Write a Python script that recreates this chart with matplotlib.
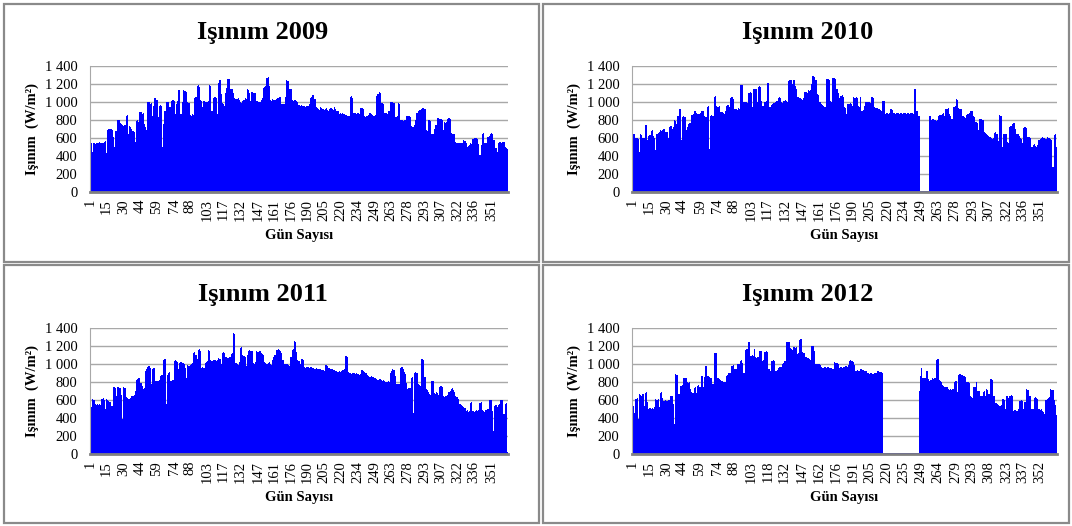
import matplotlib
matplotlib.use("Agg")
import matplotlib.pyplot as plt
import numpy as np
from matplotlib.patches import Rectangle

# ---------------- data (daily radiation, W/m2) ----------------
rad_2009 = [
    545, 550, 445, 540, 535, 540, 545, 550, 555, 550,
    545, 550, 560, 570, 435, 690, 695, 700, 705, 690,
    610, 500, 675, 680, 800, 805, 770, 760, 745, 730,
    740, 850, 855, 650, 730, 720, 700, 680, 665, 555,
    790, 795, 780, 890, 885, 870, 880, 760, 720, 685,
    1000, 995, 980, 990, 850, 960, 1045, 1050, 1020, 835,
    960, 965, 955, 500, 760, 900, 1000, 995, 1005, 950,
    940, 1010, 1020, 1015, 870, 980, 1010, 1135, 1130, 870,
    1000, 1130, 1125, 1120, 1110, 1000, 990, 855, 850, 870,
    860, 1050, 1060, 1180, 1190, 1170, 1020, 1015, 940, 1010,
    1000, 1005, 1000, 1010, 1185, 1180, 905, 1050, 1060, 1055,
    1040, 870, 1210, 1240, 1090, 985, 975, 960, 1100, 1160,
    1260, 1255, 1150, 1145, 1150, 1100, 1040, 1035, 1030, 1040,
    1020, 1000, 990, 1010, 1020, 1040, 1030, 1140, 1135, 1100,
    1010, 1110, 1100, 1095, 1100, 1010, 1015, 1005, 1000, 1020,
    1050, 1160, 1170, 1180, 1270, 1275, 1180, 1020, 1015, 1030,
    1020, 1020, 1030, 1040, 1050, 1055, 1060, 980, 975, 980,
    1060, 1240, 1235, 1230, 1150, 1145, 1020, 1015, 1020, 1020,
    1010, 1000, 970, 960, 965, 960, 955, 960, 950, 955,
    960, 980, 1040, 1060, 1080, 1075, 1030, 940, 930, 920,
    910, 940, 935, 920, 915, 925, 930, 910, 905, 920,
    935, 920, 910, 940, 925, 905, 900, 870, 875, 870,
    880, 865, 870, 860, 850, 845, 850, 1060, 1065, 1050,
    880, 875, 870, 880, 875, 870, 935, 930, 925, 840,
    835, 845, 850, 860, 875, 870, 860, 850, 845, 860,
    1070, 1090, 1110, 1100, 990, 985, 980, 880, 875, 870,
    900, 905, 1000, 1005, 995, 990, 835, 830, 840, 985,
    980, 795, 800, 790, 800, 805, 840, 850, 845, 830,
    730, 725, 720, 740, 800, 880, 905, 910, 915, 925,
    930, 935, 925, 690, 680, 800, 795, 790, 650, 640,
    700, 740, 745, 820, 825, 815, 810, 800, 690, 780,
    770, 780, 815, 820, 810, 655, 650, 645, 640, 560,
    540, 545, 540, 550, 545, 540, 575, 570, 545, 500,
    510, 520, 545, 530, 590, 600, 595, 600, 590, 530,
    410, 520, 650, 660, 545, 540, 550, 610, 620, 650,
    655, 640, 580, 575, 490, 445, 545, 555, 560, 550,
    560, 555, 500, 485, 480,
]

rad_2010 = [
    610, 640, 645, 600, 595, 590, 445, 640, 635, 600,
    595, 740, 745, 575, 620, 630, 680, 690, 620, 600,
    465, 650, 660, 670, 690, 680, 690, 695, 670, 665,
    665, 595, 720, 730, 700, 720, 795, 790, 760, 840,
    920, 925, 580, 835, 840, 830, 690, 720, 760, 770,
    770, 860, 870, 905, 895, 880, 870, 865, 875, 905,
    905, 900, 840, 830, 945, 955, 480, 850, 855, 845,
    1060, 1065, 960, 950, 940, 960, 890, 885, 880, 870,
    895, 960, 965, 950, 1040, 1060, 1055, 1030, 920, 925,
    915, 930, 920, 1185, 1190, 1000, 995, 1005, 1000, 990,
    1100, 1110, 1095, 950, 1150, 1145, 1140, 1000, 1170, 1175,
    1165, 1010, 960, 1000, 1005, 1010, 1210, 1215, 945, 970,
    975, 990, 985, 1000, 1010, 1050, 1055, 1045, 1000, 990,
    1010, 1020, 1015, 1000, 1230, 1245, 1250, 1200, 1240, 1250,
    1180, 1150, 1055, 1050, 1040, 1030, 1020, 1040, 1110, 1115,
    1100, 1130, 1125, 1130, 1200, 1285, 1280, 1245, 1240, 1090,
    1080, 1000, 980, 970, 960, 945, 950, 1255, 1260, 1250,
    1015, 1000, 1265, 1270, 1260, 1150, 1145, 1100, 1040, 1070,
    1075, 1060, 945, 930, 870, 975, 980, 985, 980, 960,
    1055, 1050, 1060, 1040, 960, 945, 1055, 905, 910, 960,
    1000, 995, 1005, 1000, 990, 1055, 1060, 1050, 940, 935,
    930, 925, 920, 910, 905, 1015, 1010, 870, 880, 875,
    870, 875, 925, 915, 875, 880, 870, 875, 880, 870,
    875, 880, 870, 875, 880, 870, 875, 880, 870, 875,
    880, 870, 1150, 1145, 900, 900, 850, 12, 12, 12,
    12, 12, 12, 12, 12, 850, 845, 805, 815, 800,
    795, 790, 800, 850, 860, 855, 870, 880, 850, 920,
    925, 930, 870, 850, 810, 815, 940, 960, 1035, 1020,
    930, 925, 920, 850, 840, 830, 820, 860, 870, 880,
    895, 900, 905, 840, 830, 780, 770, 685, 810, 815,
    810, 800, 670, 660, 640, 630, 620, 610, 600, 590,
    600, 660, 665, 650, 570, 855, 850, 845, 500, 650,
    645, 640, 555, 550, 720, 730, 760, 770, 765, 700,
    650, 640, 620, 600, 590, 540, 715, 720, 710, 610,
    610, 615, 600, 500, 520, 530, 515, 500, 520, 575,
    590, 600, 610, 605, 600, 590, 610, 600, 595, 590,
    575, 280, 630, 640, 495,
]

rad_2011 = [
    515, 520, 610, 605, 555, 550, 560, 545, 555, 550,
    610, 620, 605, 495, 610, 600, 590, 580, 535, 530,
    740, 745, 735, 640, 740, 735, 730, 660, 390, 740,
    735, 630, 620, 610, 615, 625, 640, 650, 660, 700,
    825, 835, 850, 840, 790, 760, 720, 730, 925, 940,
    970, 975, 960, 780, 950, 960, 955, 815, 810, 815,
    820, 870, 875, 880, 1050, 1055, 555, 880, 905, 910,
    815, 810, 820, 1030, 1040, 1035, 1020, 950, 1015, 1020,
    1010, 1015, 1000, 960, 850, 985, 980, 990, 1000, 1010,
    1120, 1130, 1100, 1060, 1160, 1165, 1150, 960, 965, 960,
    1010, 1020, 1030, 1160, 1150, 1040, 1035, 1045, 1040, 1050,
    1030, 1040, 1070, 1060, 1000, 1120, 1130, 1125, 1080, 1075,
    1070, 1075, 1080, 1110, 1120, 1340, 1330, 1010, 1000, 990,
    1020, 1180, 1185, 1100, 1090, 1080, 980, 1100, 1150, 1155,
    1145, 1150, 1010, 1000, 1020, 1140, 1135, 1130, 1140, 1120,
    1110, 1100, 1020, 1010, 1000, 1015, 1020, 1005, 990, 1050,
    1080, 1100, 1160, 1155, 1165, 1160, 1150, 1120, 1040, 1005,
    1000, 995, 1005, 990, 980, 1080, 1160, 1165, 1260, 1250,
    1130, 1040, 1035, 1000, 1055, 1060, 1050, 970, 960, 965,
    970, 960, 965, 970, 960, 955, 950, 960, 945, 940,
    945, 940, 935, 930, 925, 990, 985, 975, 960, 955,
    950, 940, 935, 930, 925, 920, 915, 920, 910, 925,
    930, 935, 940, 1085, 1080, 910, 905, 895, 890, 900,
    895, 890, 895, 890, 885, 880, 885, 930, 925, 910,
    900, 895, 880, 870, 860, 865, 855, 860, 850, 840,
    830, 825, 835, 830, 820, 815, 825, 810, 805, 800,
    810, 805, 900, 920, 945, 935, 870, 780, 775, 780,
    775, 960, 965, 940, 910, 890, 790, 725, 730, 735,
    850, 860, 460, 900, 910, 905, 780, 770, 760, 1055,
    1060, 1050, 860, 720, 710, 690, 665, 660, 810, 815,
    680, 670, 690, 675, 660, 750, 760, 745, 640, 630,
    650, 645, 660, 690, 700, 720, 730, 710, 690, 650,
    630, 610, 560, 555, 550, 530, 520, 510, 480, 485,
    470, 480, 570, 575, 480, 470, 475, 485, 480, 490,
    570, 575, 490, 480, 470, 485, 490, 500, 600, 605,
    595, 480, 260, 530, 540, 520, 545, 560, 600, 605,
    600, 440, 560, 570, 20,
]

rad_2012 = [
    540, 535, 460, 615, 620, 390, 665, 660, 650, 665,
    530, 680, 685, 575, 500, 510, 505, 515, 500, 520,
    610, 605, 610, 520, 680, 685, 620, 590, 595, 585,
    590, 600, 595, 645, 650, 560, 335, 885, 880, 875,
    665, 760, 755, 765, 845, 850, 840, 800, 790, 795,
    720, 690, 680, 730, 740, 680, 760, 765, 750, 870,
    865, 740, 860, 975, 980, 870, 860, 850, 845, 775,
    780, 1125, 1120, 850, 845, 830, 820, 810, 805, 800,
    800, 870, 880, 900, 905, 980, 975, 985, 945, 940,
    1000, 1005, 1000, 1035, 1040, 1010, 905, 1160, 1165, 1170,
    1245, 1250, 1090, 1095, 1085, 1165, 1075, 1070, 1080, 1145,
    1150, 1140, 1035, 1040, 1135, 1140, 1130, 940, 945, 925,
    1035, 1040, 1030, 925, 920, 930, 960, 965, 970, 1000,
    1010, 1030, 1035, 1250, 1245, 1240, 1175, 1170, 1160, 1185,
    1180, 1190, 1110, 1120, 1270, 1275, 1130, 1125, 1120, 1080,
    1075, 1070, 1060, 1050, 1200, 1205, 1195, 1150, 1000, 995,
    1000, 1005, 990, 965, 960, 970, 965, 960, 970, 965,
    960, 955, 950, 945, 1020, 1015, 1010, 1000, 960, 965,
    970, 960, 965, 975, 980, 970, 985, 1035, 1040, 1030,
    1020, 990, 925, 920, 930, 920, 940, 945, 935, 930,
    925, 920, 900, 895, 890, 900, 895, 890, 895, 900,
    895, 920, 925, 915, 910, 905, 12, 12, 12, 12,
    12, 12, 12, 12, 12, 12, 12, 12, 12, 12,
    12, 12, 12, 12, 12, 12, 12, 12, 12, 12,
    12, 12, 12, 12, 12, 12, 12, 700, 870, 955,
    850, 845, 840, 920, 925, 830, 815, 820, 840, 835,
    850, 845, 1050, 1055, 820, 810, 800, 765, 760, 750,
    745, 740, 720, 715, 720, 710, 725, 805, 810, 815,
    690, 880, 885, 880, 875, 870, 865, 860, 800, 795,
    790, 640, 630, 620, 745, 750, 795, 700, 705, 700,
    650, 645, 690, 700, 640, 720, 715, 665, 830, 835,
    825, 650, 640, 570, 560, 540, 535, 530, 545, 610,
    605, 500, 645, 640, 620, 650, 655, 640, 480, 485,
    490, 480, 500, 590, 585, 595, 590, 500, 575, 720,
    715, 710, 650, 645, 500, 495, 625, 630, 620, 615,
    500, 490, 495, 480, 470, 445, 600, 610, 620, 630,
    720, 715, 710, 600, 540, 430,
]

ticks_365 = [1, 15, 30, 44, 59, 74, 88, 103, 117, 132, 147, 161, 176, 190, 205,
             220, 234, 249, 263, 278, 293, 307, 322, 336, 351]
ticks_366 = [1, 15, 30, 44, 59, 74, 88, 103, 118, 132, 147, 162, 176, 191, 205,
             220, 235, 249, 264, 279, 293, 308, 323, 337, 352]
y_ticks = [0, 200, 400, 600, 800, 1000, 1200, 1400]
y_tick_labels = ["0", "200", "400", "600", "800", "1 000", "1 200", "1 400"]
titles = ["Işınım 2009", "Işınım 2010", "Işınım 2011", "Işınım 2012"]
x_label = "Gün Sayısı"
y_label = "Işınım  (W/m²)"

# ---------------- figure ----------------
plt.rcParams['font.family'] = ['Liberation Serif', 'DejaVu Serif']
W, H = 1072, 526
fig = plt.figure(figsize=(W / 100, H / 100), dpi=100)
fig.patch.set_facecolor('white')

def fig_rect(l, t, r, b):
    return [l / W, 1 - b / H, (r - l) / W, (b - t) / H]

panels = [
    dict(vals=rad_2009, ticks=ticks_365, frame=(4, 4, 539, 262), ax=(90, 66, 508, 192), tc=(263, 33)),
    dict(vals=rad_2010, ticks=ticks_365, frame=(543, 4, 1069, 262), ax=(632, 66, 1057, 192), tc=(808, 33)),
    dict(vals=rad_2011, ticks=ticks_365, frame=(4, 265, 539, 523), ax=(90, 328, 508, 454), tc=(263, 295)),
    dict(vals=rad_2012, ticks=ticks_366, frame=(543, 265, 1069, 523), ax=(632, 328, 1057, 454), tc=(808, 295)),
]

for title, p in zip(titles, panels):
    l, t, r, b = p['frame']
    x0, y0, w, h = fig_rect(l, t, r, b)
    fig.add_artist(Rectangle((x0, y0), w, h, transform=fig.transFigure,
                             fill=False, edgecolor='#8a8a8a', linewidth=1.6))
    ax = fig.add_axes(fig_rect(*p['ax']))
    vals = np.array(p['vals'])
    days = np.arange(1, len(vals) + 1)
    ax.bar(days, vals, width=1.0, color='#0000ff', linewidth=0, zorder=2)
    ax.set_xlim(0.5, len(vals) + 0.5)
    ax.set_ylim(0, 1400)
    ax.set_yticks(y_ticks)
    ax.set_yticklabels(y_tick_labels)
    ax.set_xticks(p['ticks'])
    ax.set_xticklabels([str(v) for v in p['ticks']], rotation=90)
    ax.yaxis.grid(True, color='#a8a8a8', linewidth=1.0, zorder=0)
    ax.set_axisbelow(True)
    for s in ('top', 'right'):
        ax.spines[s].set_visible(False)
    ax.spines['left'].set_color('#a8a8a8')
    ax.spines['left'].set_linewidth(0.8)
    ax.spines['bottom'].set_color('#808080')
    ax.spines['bottom'].set_linewidth(2.0)
    ax.spines['bottom'].set_zorder(5)
    ax.tick_params(axis='both', length=0, labelsize=10.5, colors='black')
    ax.tick_params(axis='y', pad=9)
    ax.tick_params(axis='x', pad=5)
    ax.set_xlabel(x_label, fontsize=10.5, fontweight='bold', labelpad=6)
    ax.set_ylabel(y_label, fontsize=10.5, fontweight='bold', labelpad=4)
    fig.text(p['tc'][0] / W, 1 - p['tc'][1] / H, title, ha='center', va='center',
             fontsize=19, fontweight='bold')

fig.savefig('out.png', dpi=100, facecolor='white')
